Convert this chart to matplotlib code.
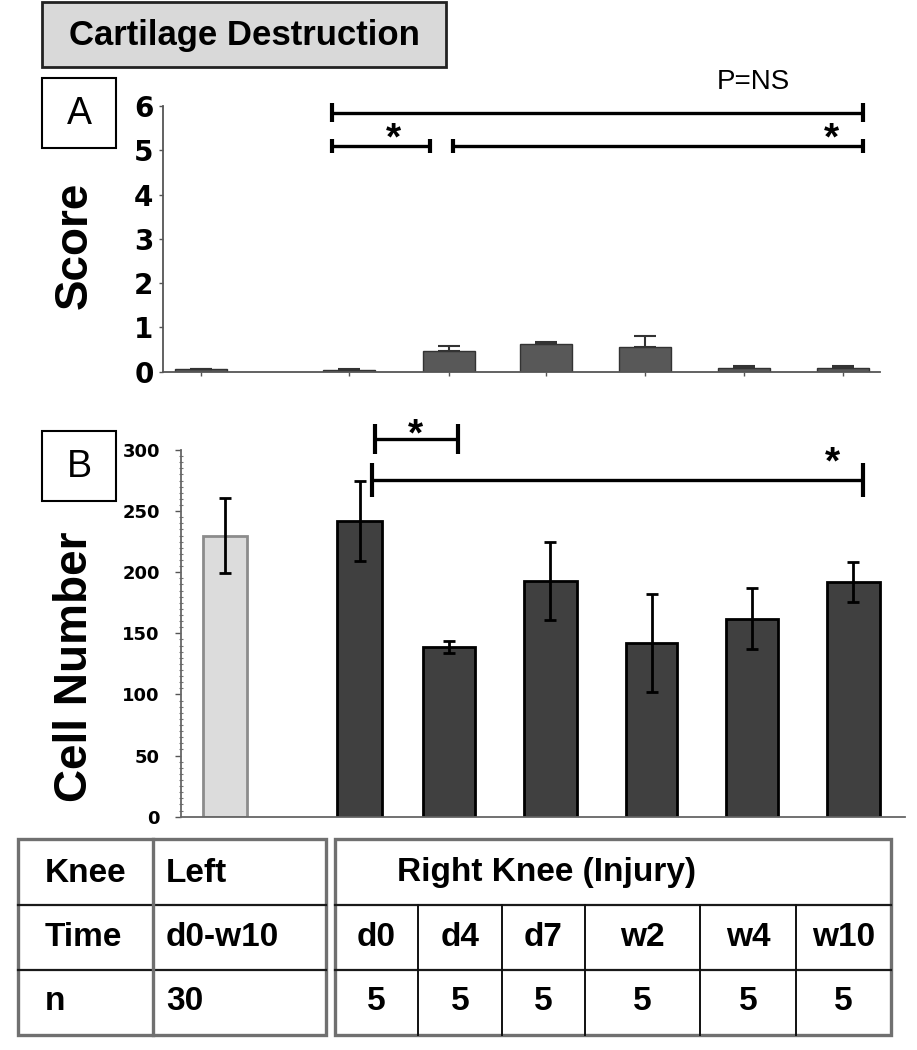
import matplotlib.pyplot as plt
from matplotlib.patches import Rectangle

# Data
groups = ["Left", "d0", "d4", "d7", "w2", "w4", "w10"]
score = [0.05, 0.04, 0.47, 0.62, 0.56, 0.09, 0.09]
score_err = [0.01, 0.01, 0.12, 0.04, 0.25, 0.03, 0.03]
cells = [230, 242, 139, 193, 142, 162, 192]
cells_err = [31, 33, 5, 32, 40, 25, 16]

# Table text
row_names = ["Knee", "Time", "n"]
left_col = ["Left", "d0-w10", "30"]
right_header = "Right Knee (Injury)"
time_labels = ["d0", "d4", "d7", "w2", "w4", "w10"]
n_values = [5, 5, 5, 5, 5, 5]

# layout (units of 100 px from each y axis)
xpos_a = [0.377, 1.857, 2.854, 3.827, 4.812, 5.807, 6.792]
xpos_b = [0.446, 1.793, 2.688, 3.693, 4.71, 5.713, 6.723]
widths_b = [0.44, 0.45, 0.52, 0.53, 0.51, 0.52, 0.53]

plt.rcParams['font.family'] = ['Liberation Sans', 'DejaVu Sans']

W, H = 917, 1050
fig = plt.figure(figsize=(W / 100, H / 100), dpi=100)


def fx(px):
    return px / W


def fy(py):
    return 1 - py / H


# overlay in pixel coordinates for boxes and the table
ov = fig.add_axes([0, 0, 1, 1])
ov.set_xlim(0, W)
ov.set_ylim(H, 0)
ov.axis("off")

ov.add_patch(Rectangle((42, 2), 404, 65, facecolor="#d9d9d9", edgecolor="#222222", lw=2))
ov.text(244, 35, "Cartilage Destruction", ha="center", va="center", fontsize=25, fontweight="bold")
for lab, y0 in [("A", 78), ("B", 431)]:
    ov.add_patch(Rectangle((42, y0), 74, 70, facecolor="white", edgecolor="black", lw=1.5))
    ov.text(79, y0 + 36, lab, ha="center", va="center", fontsize=27)

ov.text(75, 245, "Score", rotation=90, ha="center", va="center", fontsize=33, fontweight="bold")
ov.text(75, 667, "Cell Number", rotation=90, ha="center", va="center", fontsize=33, fontweight="bold")

# table
top, r1, r2, bot = 839, 905, 970, 1035
gray = "#707070"
for xl, xr in [(18, 326), (335, 891)]:
    ov.add_patch(Rectangle((xl, top), xr - xl, bot - top, fill=False, edgecolor=gray, lw=2.4))
    for yy in (r1, r2):
        ov.plot([xl, xr], [yy, yy], color="#1a1a1a", lw=1.6)
ov.plot([153, 153], [top, bot], color=gray, lw=2.4)
col_edges = [335, 418, 502, 585, 700, 796, 891]
for xx in col_edges[1:-1]:
    ov.plot([xx, xx], [r1, bot], color="#111111", lw=1.4)

row_y = [873, 937, 1002]
for i in range(3):
    ov.text(45, row_y[i], row_names[i], ha="left", va="center", fontsize=24, fontweight="bold")
    ov.text(166, row_y[i], left_col[i], ha="left", va="center", fontsize=24, fontweight="bold")
ov.text(397, row_y[0], right_header, ha="left", va="center", fontsize=24, fontweight="bold")
for j in range(6):
    cx = (col_edges[j] + col_edges[j + 1]) / 2
    ov.text(cx, row_y[1], time_labels[j], ha="center", va="center", fontsize=24, fontweight="bold")
    ov.text(cx, row_y[2], str(n_values[j]), ha="center", va="center", fontsize=24, fontweight="bold")


def bracket(ax, x0, x1, y, cap, lw=2.4):
    ax.plot([x0, x1], [y, y], color="black", lw=lw, clip_on=False, solid_capstyle="butt")
    for xx in (x0, x1):
        ax.plot([xx, xx], [y - cap, y + cap], color="black", lw=3, clip_on=False, solid_capstyle="butt")


# Panel A
ax_a = fig.add_axes([fx(163.3), fy(371.7), fx(880 - 163.3), 265.7 / H])
ax_a.bar(xpos_a, score, width=0.52, color="#585858", edgecolor="#333333", lw=1, zorder=2)
ax_a.errorbar(xpos_a, score, yerr=[[0] * len(score), score_err], fmt="none",
              ecolor="#333333", elinewidth=1.5, capsize=8, capthick=1.5, zorder=3)
ax_a.set_xlim(0, 7.167)
ax_a.set_ylim(0, 6)
ax_a.set_yticks(range(7))
ax_a.set_xticks(xpos_a)
ax_a.set_xticklabels([])
ax_a.tick_params(axis="y", length=3, width=1, color="#555555", pad=4,
                 labelsize=20)
ax_a.tick_params(axis="x", length=3, width=1, color="#555555")
for lbl in ax_a.get_yticklabels():
    lbl.set_family("DejaVu Sans")
    lbl.set_fontweight("bold")
for s in ["top", "right"]:
    ax_a.spines[s].set_visible(False)
for s in ["left", "bottom"]:
    ax_a.spines[s].set_color("#555555")
    ax_a.spines[s].set_linewidth(1.3)

bracket(ax_a, 1.684, 7.0, 5.85, 0.21)
bracket(ax_a, 1.684, 2.667, 5.1, 0.16)
bracket(ax_a, 2.9, 7.0, 5.1, 0.16)
ax_a.text(2.3, 5.25, "*", ha="center", va="center", fontsize=28, fontweight="bold")
ax_a.text(6.684, 5.25, "*", ha="center", va="center", fontsize=28, fontweight="bold")
ax_a.text(5.9, 6.55, "P=NS", ha="center", va="center", fontsize=20)

# Panel B
ax_b = fig.add_axes([fx(180.7), fy(816.7), fx(905 - 180.7), 366.7 / H])
colors_b = ["#dcdcdc"] + ["#404040"] * 6
edges_b = ["#8c8c8c"] + ["black"] * 6
ax_b.bar(xpos_b, cells, width=widths_b, color=colors_b, edgecolor=edges_b, lw=2, zorder=2)
ax_b.errorbar(xpos_b, cells, yerr=cells_err, fmt="none", ecolor="black",
              elinewidth=2, capsize=4, capthick=2, zorder=3)
ax_b.set_xlim(0, 7.243)
ax_b.set_ylim(0, 300)
ax_b.set_yticks(range(0, 301, 50))
ax_b.set_yticks(range(0, 301, 5), minor=True)
ax_b.set_xticks([])
ax_b.tick_params(axis="y", which="major", length=4, width=1, color="#555555", pad=11, labelsize=13)
ax_b.tick_params(axis="y", which="minor", length=3, width=0.8, color="#777777", direction="inout")
for lbl in ax_b.get_yticklabels():
    lbl.set_family("DejaVu Sans")
    lbl.set_fontweight("bold")
for s in ["top", "right"]:
    ax_b.spines[s].set_visible(False)
for s in ["left", "bottom"]:
    ax_b.spines[s].set_color("#666666")
    ax_b.spines[s].set_linewidth(1.3)

bracket(ax_b, 1.943, 2.776, 308.8, 12.3)
bracket(ax_b, 1.91, 6.826, 275.5, 14)
ax_b.text(2.343, 312, "*", ha="center", va="center", fontsize=28, fontweight="bold")
ax_b.text(6.52, 289, "*", ha="center", va="center", fontsize=28, fontweight="bold")

fig.savefig("out.png", dpi=100)
